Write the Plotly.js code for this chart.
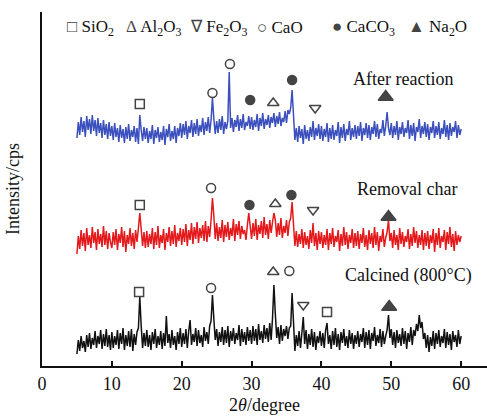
<!DOCTYPE html>
<html>
<head>
<meta charset="utf-8">
<script src="https://cdn.plot.ly/plotly-3.0.1.min.js"></script>
<style>html,body{margin:0;padding:0;background:#fff;}#chart{width:487px;height:417px;}</style>
</head>
<body>
<div id="chart"></div>
<script>
// XRD patterns, 2θ sampled from 5° to 60° every 0.2°
const startAngle = 5;
const stepAngle = 0.2;

// Calcined (800°C) — black
const calcined = [
  12, 26, 15, 30, 18, 25, 14, 31, 19, 33, 17, 28, 21, 35, 18, 30, 22, 36, 17, 32, 20, 37, 19, 31, 16,
  34, 18, 30, 21, 36, 17, 33, 22, 38, 16, 31, 20, 35, 19, 37, 15, 32, 21, 34, 38, 69, 40, 18, 33, 20,
  36, 19, 31, 16, 34, 22, 37, 18, 30, 21, 35, 17, 33, 20, 50, 23, 32, 18, 36, 21, 30, 16, 34, 22, 38,
  19, 33, 22, 37, 18, 35, 46, 21, 32, 24, 38, 20, 36, 23, 31, 19, 39, 25, 34, 22, 40, 45, 71, 47, 26,
  37, 20, 34, 24, 39, 21, 36, 23, 40, 19, 35, 25, 38, 22, 33, 26, 41, 20, 37, 24, 34, 21, 39, 25, 36,
  22, 40, 25, 37, 21, 42, 26, 35, 23, 41, 27, 38, 24, 43, 26, 48, 81, 52, 28, 39, 22, 41, 25, 37, 30,
  40, 27, 38, 40, 73, 34, 15, 31, 20, 35, 18, 33, 49, 22, 36, 17, 32, 21, 37, 19, 34, 16, 30, 23, 35,
  20, 33, 18, 36, 43, 22, 31, 17, 35, 21, 38, 19, 32, 16, 34, 23, 37, 20, 30, 18, 36, 22, 33, 17, 31,
  22, 35, 19, 32, 24, 38, 18, 34, 21, 36, 17, 33, 25, 39, 20, 31, 23, 37, 19, 35, 22, 30, 36, 51, 28,
  37, 21, 34, 18, 36, 23, 32, 20, 38, 22, 35, 17, 33, 24, 39, 21, 36, 30, 42, 35, 51, 38, 44, 27, 33,
  18, 31, 14, 29, 20, 35, 17, 33, 22, 36, 19, 30, 23, 37, 18, 34, 21, 32, 16, 35, 24, 31, 19, 36, 22,
  30
];

// Removal char — red
const removalChar = [
  112, 130, 117, 136, 120, 133, 115, 138, 121, 131, 118, 139, 123, 134, 116, 137, 122, 132, 119, 140, 121, 135, 117, 133, 124,
  118, 134, 121, 137, 116, 132, 123, 139, 119, 135, 114, 131, 122, 138, 120, 133, 117, 136, 124, 138, 153, 137, 120, 134, 118,
  135, 119, 132, 122, 138, 117, 134, 121, 140, 118, 131, 123, 137, 116, 133, 124, 139, 120, 135, 122, 141, 119, 133, 125, 138,
  121, 137, 124, 142, 120, 136, 126, 143, 122, 139, 127, 144, 123, 138, 128, 141, 125, 145, 124, 140, 129, 146, 168, 150, 127,
  143, 125, 139, 128, 146, 124, 141, 129, 144, 126, 138, 130, 147, 125, 142, 131, 145, 127, 140, 132, 136, 126, 141, 153, 140,
  127, 143, 130, 147, 126, 141, 132, 145, 128, 149, 131, 142, 127, 146, 133, 144, 153, 146, 129, 143, 131, 148, 128, 140, 133,
  146, 130, 144, 148, 164, 142, 120, 135, 119, 132, 122, 137, 118, 134, 121, 130, 117, 136, 123, 143, 120, 133, 116, 135, 122,
  134, 118, 131, 121, 137, 116, 133, 122, 138, 119, 130, 124, 136, 115, 132, 120, 139, 121, 134, 117, 131, 123, 137, 118, 133,
  120, 135, 117, 132, 123, 138, 119, 131, 116, 136, 122, 133, 118, 139, 121, 134, 115, 130, 124, 137, 119, 128, 134, 146, 125,
  133, 118, 136, 121, 131, 116, 138, 122, 134, 119, 130, 124, 137, 117, 132, 120, 139, 123, 135, 118, 131, 121, 136, 116, 133,
  120, 135, 117, 131, 123, 137, 114, 133, 121, 138, 118, 130, 124, 136, 116, 134, 122, 139, 119, 132, 115, 135, 121, 131, 124,
  130
];

// After reaction — blue
const afterReaction = [
  228, 244, 231, 249, 234, 245, 229, 250, 236, 247, 232, 251, 235, 246, 230, 248, 233, 243, 228, 246, 231, 242, 227, 244, 230,
  240, 226, 243, 229, 238, 224, 241, 228, 237, 223, 239, 227, 242, 225, 236, 229, 240, 224, 238, 222, 251, 236, 225, 239, 227,
  238, 223, 235, 227, 241, 222, 236, 228, 239, 224, 234, 226, 240, 221, 237, 229, 242, 225, 235, 227, 240, 223, 238, 230, 243,
  228, 242, 231, 245, 227, 240, 233, 246, 229, 243, 232, 247, 230, 241, 234, 248, 231, 244, 235, 249, 233, 246, 268, 247, 232,
  245, 233, 247, 236, 250, 232, 244, 237, 245, 294, 238, 248, 234, 246, 239, 251, 235, 247, 238, 252, 236, 244, 240, 250, 237,
  249, 236, 246, 239, 252, 235, 248, 240, 253, 237, 247, 241, 251, 238, 249, 243, 253, 239, 250, 242, 254, 240, 248, 244, 255,
  243, 256, 252, 258, 276, 250, 226, 238, 224, 240, 228, 237, 222, 241, 227, 236, 225, 239, 229, 245, 226, 238, 230, 242, 227,
  240, 225, 237, 229, 243, 224, 238, 227, 241, 226, 236, 230, 244, 223, 239, 228, 242, 225, 237, 231, 245, 226, 238, 229, 241,
  227, 240, 230, 244, 225, 238, 231, 243, 228, 241, 226, 239, 232, 245, 229, 242, 227, 237, 233, 246, 230, 240, 254, 238, 231,
  243, 228, 240, 231, 245, 226, 239, 232, 244, 229, 238, 233, 246, 227, 241, 230, 243, 225, 239, 234, 247, 228, 240, 232, 244,
  229, 242, 226, 239, 233, 245, 228, 240, 231, 244, 227, 238, 232, 246, 229, 241, 226, 243, 230, 239, 234, 245, 228, 241, 231,
  237
];

// Phase labels: 2θ and intensity level where each symbol is drawn
const sio2X  = [14.0, 14.0, 13.9, 40.8];
const sio2Y  = [262, 161, 74, 54];
const al2o3X = [33.1, 33.4, 33.1];
const al2o3Y = [263, 162, 94];
const fe2o3X = [39.1, 38.8, 37.4];
const fe2o3Y = [258, 156, 61];
const caoX   = [24.4, 26.9, 24.2, 24.2, 35.4];
const caoY   = [273, 302, 178, 78, 95];
const caco3X = [29.8, 35.8, 29.7, 35.7];
const caco3Y = [266, 286, 161, 171];
const na2oX  = [49.2, 49.6, 49.7];
const na2oY  = [269, 149, 59];

const seriesNames = ['After reaction', 'Removal char', 'Calcined (800°C)'];
const labelX = [51.7, 52.2, 52.4];
const labelY = [287, 177, 91];

const legendSymbols = ['□', 'Δ', '∇', '○', '●', '▲'];
const legendNames = ['SiO<sub>2</sub>', 'Al<sub>2</sub>O<sub>3</sub>', 'Fe<sub>2</sub>O<sub>3</sub>', 'CaO', 'CaCO<sub>3</sub>', 'Na<sub>2</sub>O'];

const angles = calcined.map((_, i) => startAngle + i * stepAngle);

const serif = "'Liberation Serif', 'Times New Roman', Times, serif";
const symColor = '#444';

function lineTrace(y, color) {
  return {x: angles, y: y, type: 'scatter', mode: 'lines',
          line: {color: color, width: 1.5}, showlegend: false, hoverinfo: 'skip'};
}
function markTrace(x, y, symbol, size) {
  return {x: x, y: y, type: 'scatter', mode: 'markers', showlegend: false, hoverinfo: 'skip',
          marker: {symbol: symbol, size: size, color: symColor, line: {color: symColor, width: 1.5}}};
}

const data = [
  lineTrace(calcined, '#111111'),
  lineTrace(removalChar, '#e3191c'),
  lineTrace(afterReaction, '#3b4fbd'),
  markTrace(sio2X, sio2Y, 'square-open', 9),
  markTrace(al2o3X, al2o3Y, 'triangle-up-open', 10),
  markTrace(fe2o3X, fe2o3Y, 'triangle-down-open', 10),
  markTrace(caoX, caoY, 'circle-open', 9),
  markTrace(caco3X, caco3Y, 'circle', 9),
  markTrace(na2oX, na2oY, 'triangle-up', 13)
];

const annotations = seriesNames.map((t, i) => ({
  x: labelX[i], y: labelY[i], xref: 'x', yref: 'y', text: t, showarrow: false,
  xanchor: 'center', yanchor: 'middle', font: {family: serif, size: 18, color: '#111'}
}));
// legend row across the top
const legendLeft = [0.052, 0.185, 0.327, 0.479, 0.648, 0.818];
legendSymbols.forEach((s, i) => {
  annotations.push({
    x: legendLeft[i], y: 0.955, xref: 'paper', yref: 'paper', xanchor: 'left', yanchor: 'middle',
    showarrow: false, text: '<span style="color:#444">' + s + '</span> ' + legendNames[i],
    font: {family: serif, size: 17, color: '#111'}
  });
});

const layout = {
  width: 487, height: 417,
  margin: {l: 42, r: 0, t: 12, b: 51, pad: 0},
  paper_bgcolor: '#fff', plot_bgcolor: '#fff',
  font: {family: serif, size: 18, color: '#111'},
  xaxis: {
    range: [0, 63.7], tick0: 0, dtick: 10, ticks: 'inside', ticklen: 5, tickwidth: 2, tickcolor: '#111',
    showline: true, linecolor: '#111', linewidth: 2, showgrid: false, zeroline: false,
    tickfont: {family: serif, size: 18, color: '#111'},
    title: {text: '2<i>θ</i>/degree', font: {family: serif, size: 18, color: '#111'}, standoff: 6}
  },
  yaxis: {
    range: [0, 354], showline: true, linecolor: '#111', linewidth: 2, showgrid: false, zeroline: false,
    showticklabels: false, ticks: '',
    title: {text: 'Intensity/cps', font: {family: serif, size: 18, color: '#111'}, standoff: 16}
  },
  annotations: annotations
};

Plotly.newPlot('chart', data, layout, {staticPlot: true, displayModeBar: false});
</script>
</body>
</html>
